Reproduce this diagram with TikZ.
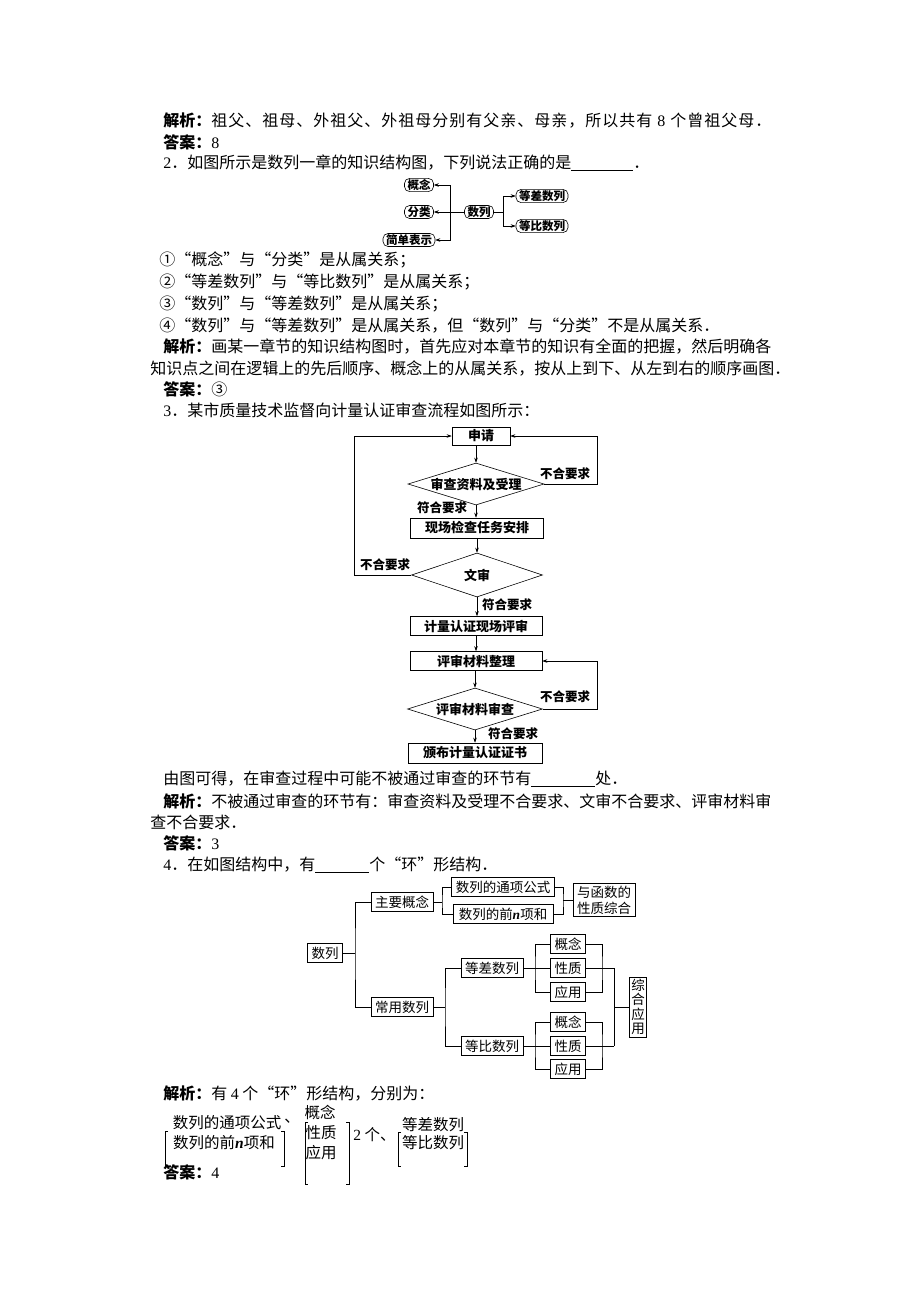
\documentclass[tikz,border=0pt]{standalone}
\usepackage{fontspec}
\setmainfont{Noto Sans CJK SC}
\newfontfamily\latn{Liberation Serif}
\usetikzlibrary{shapes.geometric,arrows.meta}
\XeTeXlinebreaklocale "zh"
\XeTeXlinebreakskip=0pt plus 1pt
\newcommand{\jiexi}{\textbf{解析：}}
\newcommand{\daan}{\textbf{答案：}}
\newcommand{\blank}[1]{\rule[-2pt]{#1}{0.5pt}}
\newcommand{\eight}{\hspace{4pt}{\latn 8}\hspace{4pt}}
\def\spreadend{\spreadend}
\def\spreadtext#1{\spreadstep#1\spreadend}
\def\spreadstep#1{\ifx#1\spreadend\else#1\hskip0pt plus 1fil\relax\expandafter\spreadstep\fi}
\begin{document}
\begin{tikzpicture}[x=1pt, y=-1pt, line width=0.6pt,
    txt/.style = {anchor=west, inner sep=0pt, font=\fontsize{16}{16}\selectfont},
    jbox/.style = {draw, rounded corners=5pt, inner xsep=3pt, inner ysep=1pt, font=\bfseries\fontsize{11.5}{12}\selectfont},
    fbox/.style = {draw, minimum width=132pt, minimum height=19pt, inner sep=0pt, font=\bfseries\fontsize{13}{13}\selectfont},
    fdia/.style = {draw, diamond, aspect=3.2, minimum width=136pt, minimum height=42pt, inner sep=0pt, font=\bfseries\fontsize{13}{13}\selectfont},
    flbl/.style = {inner sep=0pt, font=\bfseries\fontsize{12.5}{13}\selectfont},
    sbox/.style = {draw, minimum height=19pt, inner xsep=4pt, inner ysep=0pt, font=\fontsize{13.5}{14}\selectfont},
    mtx/.style = {inner sep=0pt, font=\fontsize{15.5}{16}\selectfont},
    >={Stealth[length=5pt, width=3.5pt]}
]
    \useasboundingbox (0,0) rectangle (920,1302);
    \fill[white] (0,0) rectangle (920,1302);

    % text of questions 1 and 2
    \node[txt] (q1a) at (163,121) {\makebox[610pt][l]{\jiexi\spreadtext{祖父、祖母、外祖父、外祖母分别有父亲、母亲，所以共有\eight 个曾祖父母．}}};
    \node[txt] (q1b) at (163,142) {\daan{\latn 8}};
    \node[txt] (q2) at (163,163) {{\latn 2}．如图所示是数列一章的知识结构图，下列说法正确的是\blank{62pt}．};

    % knowledge structure of 数列
    \node[jbox] (gainian) at (419,185) {概念};
    \node[jbox] (fenlei) at (419,212) {分类};
    \node[jbox] (jiandan) at (409,240) {简单表示};
    \node[jbox] (shulie) at (479,212) {数列};
    \node[jbox] (dengcha) at (542,196) {等差数列};
    \node[jbox] (dengbi) at (542,226) {等比数列};
    \coordinate (jl) at (450,212);
    \coordinate (jr) at (503,212);
    \draw[->] (shulie.west) -- (fenlei.east);
    \draw[->] (jl) |- (gainian.east);
    \draw[->] (jl) |- (jiandan.east);
    \draw (shulie.east) -- (jr);
    \draw[->] (jr) |- (dengcha.west);
    \draw[->] (jr) |- (dengbi.west);

    \node[txt] (o1) at (159,260) {①“概念”与“分类”是从属关系；};
    \node[txt] (o2) at (159,282) {②“等差数列”与“等比数列”是从属关系；};
    \node[txt] (o3) at (159,304) {③“数列”与“等差数列”是从属关系；};
    \node[txt] (o4) at (159,326) {④“数列”与“等差数列”是从属关系，但“数列”与“分类”不是从属关系．};
    \node[txt] (q2a) at (163,347) {\makebox[607pt][s]{\jiexi 画某一章节的知识结构图时，首先应对本章节的知识有全面的把握，然后明确各}};
    \node[txt] (q2b) at (150,368) {\makebox[620pt][s]{知识点之间在逻辑上的先后顺序、概念上的从属关系，按从上到下、从左到右的顺序画图．}};
    \node[txt] (q2c) at (163,389) {\daan ③};
    \node[txt] (q3) at (163,410) {{\latn 3}．某市质量技术监督向计量认证审查流程如图所示：};

    % flow chart
    \node[draw, minimum width=58pt, minimum height=18pt, inner sep=0pt, font=\bfseries\fontsize{13}{13}\selectfont] (shenqing) at (481,436) {申请};
    \node[fdia] (ziliao) at (476,484) {审查资料及受理};
    \node[fbox, minimum width=133pt, minimum height=20pt] (xianchang) at (477,528) {现场检查任务安排};
    \node[fdia, minimum width=131pt, minimum height=44pt] (wenshen) at (477,575) {文审};
    \node[fbox] (pingshen) at (476,626) {计量认证现场评审};
    \node[fbox] (zhengli) at (476,661) {评审材料整理};
    \node[fdia, minimum width=135pt] (shencha) at (475,709) {评审材料审查};
    \node[fbox, minimum width=134pt, minimum height=20pt] (banbu) at (475,753) {颁布计量认证证书};
    \draw[->] (shenqing.south -| ziliao) -- (ziliao.north);
    \draw[->] (ziliao.south) -- (ziliao.south |- xianchang.north);
    \draw[->] (xianchang.south -| wenshen) -- (wenshen.north);
    \draw[->] (wenshen.south) -- (wenshen.south |- pingshen.north);
    \draw[->] (pingshen) -- (zhengli);
    \draw[->] (zhengli.south -| shencha) -- (shencha.north);
    \draw[->] (shencha.south) -- (shencha.south |- banbu.north);
    \coordinate (r1) at (597,436);
    \coordinate (l1) at (354,436);
    \coordinate (r2) at (597,661);
    \draw[->] (ziliao.east) -| (r1) -- (shenqing.east);
    \draw[->] (wenshen.west) -| (l1) -- (shenqing.west);
    \draw[->] (shencha.east) -| (r2) -- (zhengli.east);
    \node[flbl] (n1) at (565,474) {不合要求};
    \node[flbl] (n2) at (385,565) {不合要求};
    \node[flbl] (n3) at (565,697) {不合要求};
    \node[flbl] (y1) at (442,508) {符合要求};
    \node[flbl] (y2) at (507,605) {符合要求};
    \node[flbl] (y3) at (513,734) {符合要求};

    \node[txt] (q3a) at (163,779) {由图可得，在审查过程中可能不被通过审查的环节有\blank{64pt}处．};
    \node[txt] (q3b) at (163,801) {\makebox[607pt][s]{\jiexi 不被通过审查的环节有：审查资料及受理不合要求、文审不合要求、评审材料审}};
    \node[txt] (q3c) at (150,822) {查不合要求．};
    \node[txt] (q3d) at (163,843) {\daan{\latn 3}};
    \node[txt] (q4) at (163,865) {{\latn 4}．在如图结构中，有\blank{54pt}个“环”形结构．};

    % structure with loops
    \node[sbox] (sl) at (325,953) {数列};
    \node[sbox] (zy) at (402,902) {主要概念};
    \node[sbox, minimum width=100pt] (ty) at (503,887) {数列的通项公式};
    \node[sbox, minimum width=100pt] (qn) at (503,914) {数列的前{\latn\itshape\bfseries n}项和};
    \node[sbox, align=center, inner ysep=2pt, font=\fontsize{13.5}{16}\selectfont] (hs) at (604,900) {与函数的\\性质综合};
    \node[sbox] (cy) at (402,1007) {常用数列};
    \node[sbox] (dc) at (492,968) {等差数列};
    \node[sbox] (db) at (492,1046) {等比数列};
    \node[sbox] (g1) at (568,944) {概念};
    \node[sbox] (x1) at (568,968) {性质};
    \node[sbox] (a1) at (568,992) {应用};
    \node[sbox] (g2) at (568,1022) {概念};
    \node[sbox] (x2) at (568,1046) {性质};
    \node[sbox] (a2) at (568,1069) {应用};
    \node[sbox, align=center, inner xsep=2pt, inner ysep=2pt, font=\fontsize{13.5}{14.5}\selectfont] (zh) at (638,1007) {综\\合\\应\\用};
    \coordinate (t0) at (355,953);
    \coordinate (t1) at (442,902);
    \coordinate (t2) at (563,900);
    \coordinate (t3) at (445,1007);
    \coordinate (t4) at (535,968);
    \coordinate (t5) at (535,1046);
    \coordinate (t6) at (602,968);
    \coordinate (t7) at (602,1046);
    \coordinate (t8) at (614,968);
    \coordinate (t9) at (614,1046);
    \draw (sl) -- (t0);
    \draw (zy.west) -| (t0) |- (cy.west);
    \draw (zy) -- (t1);
    \draw (ty.west) -| (t1) |- (qn.west);
    \draw (ty.east) -| (t2) |- (qn.east);
    \draw (t2) -- (hs.west);
    \draw (cy) -- (t3);
    \draw (dc.west) -| (t3) |- (db.west);
    \draw (dc) -- (t4) -- (x1);
    \draw (g1.west) -| (t4) |- (a1.west);
    \draw (db) -- (t5) -- (x2);
    \draw (g2.west) -| (t5) |- (a2.west);
    \draw (g1.east) -| (t6) |- (a1.east);
    \draw (g2.east) -| (t7) |- (a2.east);
    \draw (x1.east) -- (t8);
    \draw (x2.east) -- (t9);
    \draw (t8) |- (zh.west);
    \draw (t9) |- (zh.west);

    \node[txt] (q4a) at (163,1093) {\jiexi 有 {\latn 4} 个“环”形结构，分别为：};
    \node[mtx] (m1) at (227,1123) {数列的通项公式};
    \node[mtx] (m2) at (224,1143) {数列的前{\latn\itshape\bfseries n}项和};
    \draw (168,1131) -- (165,1131) -- (165,1166) -- (168,1166);
    \draw (281,1131) -- (284,1131) -- (284,1166) -- (281,1166);
    \node[mtx] (m3) at (292,1121) {、};
    \node[mtx] (m4) at (320,1112) {概念};
    \node[mtx] (m5) at (321,1133) {性质};
    \node[mtx] (m6) at (321,1153) {应用};
    \draw (308,1122) -- (305,1122) -- (305,1184) -- (308,1184);
    \draw (346,1122) -- (349,1122) -- (349,1184) -- (346,1184);
    \node[mtx, anchor=west] (m7) at (353,1135) {{\latn 2} 个、};
    \node[mtx] (m8) at (433,1125) {等差数列};
    \node[mtx] (m9) at (433,1143) {等比数列};
    \draw (401,1132) -- (398,1132) -- (398,1166) -- (401,1166);
    \draw (464,1132) -- (467,1132) -- (467,1166) -- (464,1166);
    \node[txt] (q4b) at (163,1172) {\daan{\latn 4}};
\end{tikzpicture}
\end{document}
